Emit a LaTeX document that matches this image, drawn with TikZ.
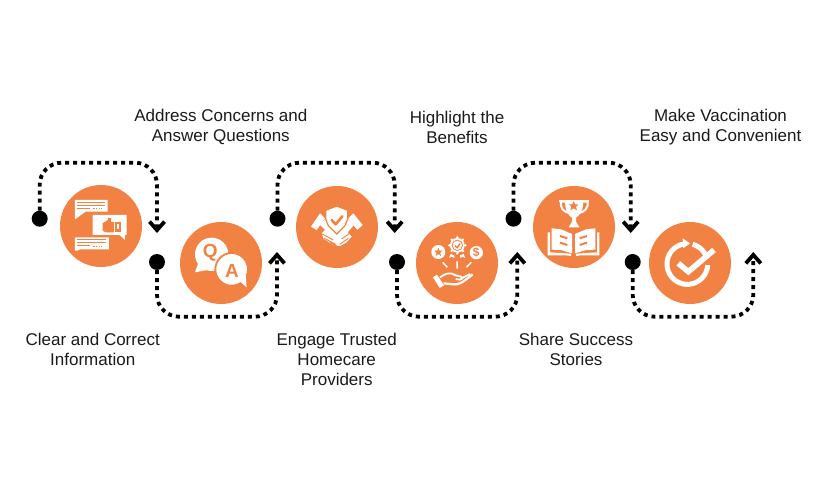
\documentclass[tikz,border=0pt]{standalone}
\usepackage{fontspec}
\setmainfont{Liberation Sans}
\usetikzlibrary{arrows.meta}
\definecolor{accent}{HTML}{F28243}
\definecolor{ink}{HTML}{1A1A1A}
\tikzset{
 disc/.style={circle,fill=accent,draw=none,minimum size=82pt,inner sep=0pt},
 startdot/.style={circle,fill=black,draw=none,minimum size=16pt,inner sep=0pt},
 conn/.style={draw=black,line width=3.8pt,dash pattern=on 4pt off 4pt,rounded corners=22pt,
   -{Straight Barb[length=8.5pt,width=15pt,line width=3.8pt]}},
 caption/.style={align=center,text=ink,inner sep=0pt,font=\fontsize{17}{20}\selectfont},
 icon/.style={x=.3333pt,y=-.3333pt},
 ww/.style={fill=white,draw=none},
 oo/.style={fill=accent,draw=none},
 wl/.style={draw=white,line width=#1},
 ol/.style={draw=accent,line width=#1},
 iconletter/.style={text=accent,inner sep=0pt,font=\fontsize{#1}{#1}\selectfont\bfseries},
}
\begin{document}
\begin{tikzpicture}[x=1pt,y=-1pt]
\useasboundingbox (0,0) rectangle (825,500);
% discs
\node[disc] (c1) at (101,226) {};
\node[disc] (c2) at (221,263) {};
\node[disc] (c3) at (337,227) {};
\node[disc] (c4) at (457,263) {};
\node[disc] (c5) at (574,227) {};
\node[disc] (c6) at (690,263) {};
% dots
\node[startdot] (d1) at (39.7,218.7) {};
\node[startdot] (d2) at (157,262) {};
\node[startdot] (d3) at (277.5,218.7) {};
\node[startdot] (d4) at (397,262) {};
\node[startdot] (d5) at (513.5,218.7) {};
\node[startdot] (d6) at (632.7,262) {};
% connector ends
\coordinate (e1) at (157,233);
\coordinate (e2) at (277,252);
\coordinate (e3) at (394.7,233);
\coordinate (e4) at (517.3,252);
\coordinate (e5) at (630.7,233);
\coordinate (e6) at (753.3,252);
\coordinate (top) at (0,162.7);
\coordinate (bot) at (0,316.7);
% connectors
\draw[conn] (d1.center) -- (d1.center |- top) -- (e1 |- top) -- (e1);
\draw[conn] (d3.center) -- (d3.center |- top) -- (e3 |- top) -- (e3);
\draw[conn] (d5.center) -- (d5.center |- top) -- (e5 |- top) -- (e5);
\draw[conn] (d2.center) -- (d2.center |- bot) -- (e2 |- bot) -- (e2);
\draw[conn] (d4.center) -- (d4.center |- bot) -- (e4 |- bot) -- (e4);
\draw[conn] (d6.center) -- (d6.center |- bot) -- (e6 |- bot) -- (e6);
% captions
\node[caption] (t1) at (92.7,349.2) {Clear and Correct\\Information};
\node[caption] (t2) at (220.8,127.2) {Address Concerns and\\Answer Questions};
\node[caption] (t3) at (336.7,359.2) {Engage Trusted\\Homecare\\Providers};
\node[caption] (t4) at (457,127.2) {Highlight the\\Benefits};
\node[caption] (t5) at (576,349.2) {Share Success\\Stories};
\node[caption] (t6) at (720.5,127.2) {Make Vaccination\\Easy and Convenient};

% icon 1
\begin{scope}[shift={(65,190)},icon]
 \fill[ww] (30,30)--(128,30)--(128,65)--(62,65)--(30,88)--cycle;
 \draw[ol=1pt] (37,38)--(120,38) (37,46)--(120,46) (37,55)--(75,55);
 \draw[ol=1pt,dash pattern=on 1.2pt off 1.5pt] (85,56)--(112,56);
 \fill[ww] (83,75)--(185,75)--(185,135)--(180,135)--(180,150)--(164,135)--(83,135)--cycle;
 \fill[oo] (113,108)--(113,99)--(127,92)--(130,83)--(139,85)--(137,96)--(147,96)--(147,127)--(122,127)--(113,122)--cycle;
 \fill[oo] (150,97)--(168,97)--(168,126)--(150,126)--cycle;
 \fill[ww] (155,103)--(163,103)--(163,118)--(155,118)--cycle;
 \fill[ww] (30,142)--(132,142)--(132,178)--(45,178)--(37,182)--(30,182)--cycle;
 \draw[ol=1pt] (37,150)--(124,150) (37,158)--(124,158) (37,168)--(75,168);
 \draw[ol=1pt,dash pattern=on 1.2pt off 1.5pt] (85,169)--(112,169);
\end{scope}

% icon 2
\begin{scope}[shift={(190,230)},icon]
 \fill[ww] (65,73) circle[radius=50];
 \fill[ww] (28,90)--(15,127)--(62,118)--cycle;
 \fill[ww,draw=accent,line width=1.8pt] (125,118) circle[radius=49];
 \fill[ww] (145,150)--(170,172)--(165,110)--cycle;
 \node[iconletter=19] (qmark) at (61,68) {Q};
 \node[iconletter=19] (amark) at (126,124) {A};
\end{scope}

% icon 3
\begin{scope}[shift={(305,195)},icon]
 % cuffs
 \fill[ww] (18,95)--(45,55)--(60,70)--(35,105)--cycle;
 \fill[ww] (173,90)--(145,55)--(130,70)--(157,105)--cycle;
 % hands
 \fill[ww] (45,90)--(65,68)--(95,110)--(128,70)--(147,90)--(128,112)--(140,125)--(125,142)--(105,153)--(85,150)--(55,130)--(50,115)--(60,105)--cycle;
 % finger gaps
 \draw[ol=.9pt] (48,115)--(85,135) (58,130)--(92,148) (75,143)--(98,155) (148,105)--(110,132) (130,130)--(104,148);
 % shield
 \fill[ww,draw=accent,line width=1.2pt] (95,33)--(128,46)--(128,72)--(120,92)--(95,117)--(70,92)--(62,72)--(62,46)--cycle;
 \draw[ol=2.6pt,line cap=round,line join=round] (80,75)--(92,88)--(112,64);
\end{scope}

% icon 4
\begin{scope}[shift={(425,230)},icon]
 \fill[ww] (40,66) circle[radius=21];
 \fill[oo] (40,53)--(43.5,62)--(53,62)--(45.5,68)--(48,78)--(40,72)--(32,78)--(34.5,68)--(27,62)--(36.5,62)--cycle;
 \fill[ww] (154,68) circle[radius=20];
 \node[iconletter=12] (dollar) at (154,68) {\$};
 % badge
 \fill[ww] (97,46) circle[radius=22];
 \foreach \a in {0,45,...,315} \fill[ww] (97,46) ++(\a:24) circle[radius=4];
 \fill[oo] (97,46) circle[radius=17];
 \fill[ww] (97,46) circle[radius=14];
 \draw[ol=1.5pt] (90,47)--(96,53)--(105,41);
 \fill[ww] (77,72)--(72,84)--(80,80)--(88,84)--(88,76)--cycle;
 \fill[ww] (116,72)--(120,84)--(112,80)--(105,84)--(105,76)--cycle;
 % rays
 \draw[wl=1.5pt] (53,97)--(67,112) (96,94)--(96,116) (139,97)--(124,112);
 % hand
 \fill[ww] (24,142)--(36,134)--(57,166)--(44,174)--cycle;
 \draw[wl=1.8pt,line join=round] (45,142) .. controls (62,130) and (75,125) .. (92,136) -- (108,140) .. controls (115,142) and (112,150) .. (104,149) -- (92,147);
 \draw[wl=2.2pt,line join=round] (56,160) -- (85,163) .. controls (100,165) and (110,160) .. (143,133);
 \draw[wl=1.8pt] (108,146) -- (135,132);
\end{scope}

% icon 5
\begin{scope}[shift={(541,195)},icon]
 % trophy
 \draw[wl=2pt] (72,20)--(60,20) .. controls (58,42) and (68,50) .. (84,54);
 \draw[wl=2pt] (127,20)--(140,20) .. controls (142,42) and (130,50) .. (114,54);
 \fill[ww] (55,15)--(145,15)--(145,21)--(55,21)--cycle;
 \fill[ww] (72,18)--(127,18) .. controls (127,48) and (115,62) .. (105,68)--(105,80)--(115,97)--(83,97)--(93,80)--(93,68) .. controls (82,62) and (72,48) .. (72,18)--cycle;
 \fill[oo] (98,18)--(102,28)--(113,28)--(105,35)--(108,46)--(98,40)--(88,46)--(91,35)--(83,28)--(94,28)--cycle;
 % book
 \fill[ww] (20,112)--(27,112)--(27,172)--(90,176)--(90,183)--(75,181)--(20,181)--cycle;
 \fill[ww] (175,112)--(168,112)--(168,172)--(105,176)--(105,183)--(120,181)--(175,181)--cycle;
 \fill[ww] (32,100)--(60,103)--(93,117)--(93,175)--(60,165)--(32,164)--cycle;
 \fill[ww] (163,100)--(135,103)--(102,117)--(102,175)--(135,165)--(163,164)--cycle;
 \draw[ol=2pt] (57,123)--(79,130) (57,143)--(79,150) (138,123)--(116,130) (138,143)--(116,150);
\end{scope}

% icon 6
\begin{scope}[shift={(658,230)},icon]
 \draw[wl=5pt] plot[domain=100:357,samples=60] ({88+61*cos(\x)},{102-61*sin(\x)});
 \draw[wl=5pt] plot[domain=75:25,samples=20] ({88+61*cos(\x)},{102-61*sin(\x)});
 \fill[ww] (74,25)--(96,40)--(76,55)--cycle;
 \draw[wl=5.6pt,line join=miter] (61,100)--(91,125)--(168,60);
\end{scope}
\end{tikzpicture}
\end{document}
